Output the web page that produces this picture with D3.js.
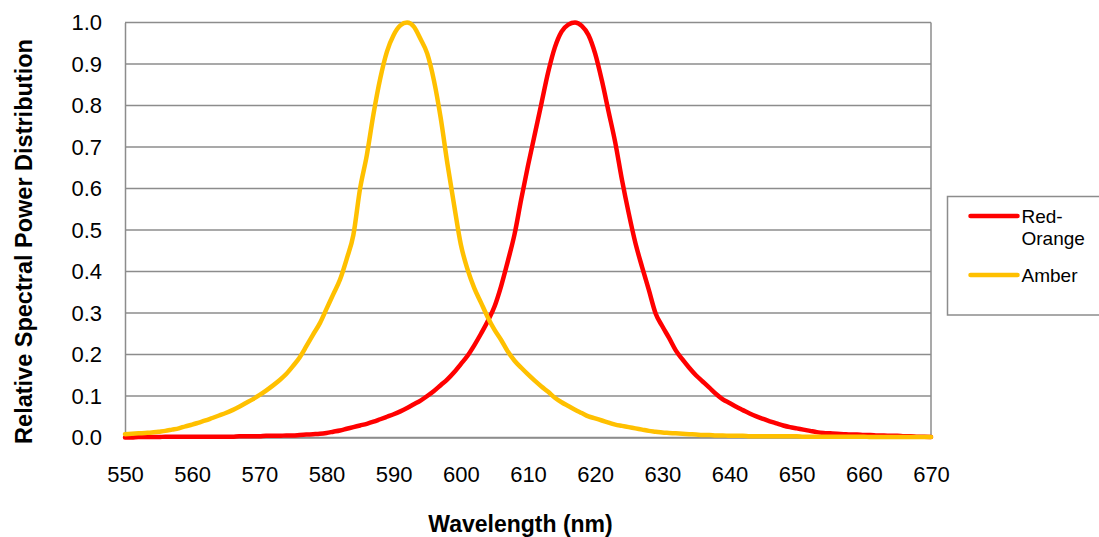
<!DOCTYPE html>
<html>
<head>
<meta charset="utf-8">
<script src="https://cdn.jsdelivr.net/npm/d3@7"></script>
<style>
  body { margin: 0; background: #fff; }
  text { font-family: "Liberation Sans", Arial, sans-serif; }
</style>
</head>
<body>
<svg width="1099" height="537"></svg>
<script>

// DATA ––––––––––––––––––––––––––––––––––––––––––––––––––––––––––––––––

var wavelengths = d3.range(550, 671, 1);

var redOrange = [
  0.000, 0.000, 0.001, 0.001, 0.001, 0.001, 0.002, 0.002, 0.002, 0.002,
  0.002, 0.002, 0.002, 0.002, 0.002, 0.002, 0.002, 0.003, 0.003, 0.003,
  0.003, 0.004, 0.004, 0.004, 0.005, 0.005, 0.006, 0.007, 0.008, 0.009,
  0.011, 0.014, 0.017, 0.021, 0.025, 0.029, 0.033, 0.038, 0.044, 0.050,
  0.056, 0.063, 0.071, 0.080, 0.089, 0.100, 0.112, 0.126, 0.140, 0.157,
  0.177, 0.197, 0.222, 0.250, 0.280, 0.315, 0.365, 0.425, 0.490, 0.575,
  0.655, 0.730, 0.805, 0.880, 0.940, 0.978, 0.995, 1.000, 0.992, 0.970,
  0.925, 0.860, 0.785, 0.710, 0.620, 0.540, 0.468, 0.410, 0.355, 0.299,
  0.268, 0.240, 0.210, 0.188, 0.168, 0.150, 0.135, 0.120, 0.105, 0.092,
  0.083, 0.074, 0.066, 0.058, 0.051, 0.045, 0.039, 0.034, 0.029, 0.025,
  0.022, 0.019, 0.016, 0.013, 0.011, 0.010, 0.009, 0.008, 0.007, 0.007,
  0.006, 0.006, 0.005, 0.005, 0.004, 0.004, 0.003, 0.003, 0.002, 0.002,
  0.001
];

var amber = [
  0.008, 0.009, 0.010, 0.011, 0.012, 0.014, 0.016, 0.019, 0.022, 0.027,
  0.031, 0.036, 0.041, 0.047, 0.053, 0.059, 0.066, 0.074, 0.083, 0.092,
  0.102, 0.113, 0.125, 0.138, 0.153, 0.172, 0.193, 0.220, 0.248, 0.275,
  0.310, 0.345, 0.380, 0.430, 0.488, 0.600, 0.680, 0.780, 0.865, 0.930,
  0.970, 0.993, 1.000, 0.990, 0.960, 0.925, 0.860, 0.770, 0.660, 0.560,
  0.465, 0.405, 0.360, 0.325, 0.290, 0.260, 0.235, 0.207, 0.185, 0.168,
  0.152, 0.137, 0.123, 0.110, 0.096, 0.085, 0.076, 0.067, 0.059, 0.051,
  0.046, 0.041, 0.036, 0.031, 0.028, 0.025, 0.022, 0.019, 0.016, 0.014,
  0.012, 0.011, 0.010, 0.009, 0.008, 0.007, 0.006, 0.006, 0.005, 0.005,
  0.004, 0.004, 0.004, 0.003, 0.003, 0.003, 0.003, 0.003, 0.003, 0.003,
  0.003, 0.002, 0.002, 0.002, 0.002, 0.002, 0.002, 0.002, 0.002, 0.002,
  0.002, 0.001, 0.001, 0.001, 0.001, 0.001, 0.001, 0.001, 0.001, 0.001,
  0.001
];

var seriesNames = ["Red-Orange", "Amber"];
var seriesColors = ["#ff0000", "#ffc000"];
var xTicks = d3.range(550, 671, 10);
var yTicks = d3.range(0, 1.01, 0.1);


// D3 ––––––––––––––––––––––––––––––––––––––––––––––––––––––––––––––––––

var svg = d3.select("svg"),
    margin = {top: 22.5, right: 168, bottom: 99.5, left: 125},
    width = +svg.attr("width") - margin.left - margin.right,
    height = +svg.attr("height") - margin.top - margin.bottom,
    g = svg.append("g").attr("transform", "translate(" + margin.left + "," + margin.top + ")");

var x = d3.scaleLinear().domain([550, 670]).range([0, width]);
var y = d3.scaleLinear().domain([0, 1]).range([height, 0]);

// gridlines
g.append("g")
    .selectAll("line")
    .data(yTicks)
    .enter().append("line")
      .attr("x1", 0)
      .attr("x2", width)
      .attr("y1", function(d) { return y(d); })
      .attr("y2", function(d) { return y(d); })
      .attr("stroke", "#8c8c8c")
      .attr("stroke-width", 1.5);

// right side of the frame
g.append("line").attr("x1", width).attr("x2", width).attr("y1", 0).attr("y2", height)
    .attr("stroke", "#8c8c8c").attr("stroke-width", 1.5);

var yAxis = g.append("g")
    .call(d3.axisLeft(y).tickValues(yTicks).tickFormat(d3.format(".1f")).tickSize(0).tickPadding(23));
yAxis.select(".domain").attr("stroke", "#8c8c8c").attr("stroke-width", 1.5);
yAxis.selectAll("text").attr("font-size", 22).attr("fill", "#000")
    .style("font-family", "'Liberation Sans', Arial, sans-serif");

var xAxis = g.append("g")
    .attr("transform", "translate(0," + height + ")")
    .call(d3.axisBottom(x).tickValues(xTicks).tickFormat(d3.format("d")).tickSize(0).tickPadding(29));
xAxis.select(".domain").attr("stroke", "#8c8c8c").attr("stroke-width", 1.5);
xAxis.selectAll("text").attr("font-size", 22).attr("fill", "#000")
    .style("font-family", "'Liberation Sans', Arial, sans-serif");

// axis titles
svg.append("text")
    .attr("x", 520.5)
    .attr("y", 532)
    .attr("text-anchor", "middle")
    .attr("font-size", 23)
    .attr("font-weight", "bold")
    .text("Wavelength (nm)");

svg.append("text")
    .attr("transform", "translate(31.5,241.5) rotate(-90)")
    .attr("text-anchor", "middle")
    .attr("font-size", 23.5)
    .attr("font-weight", "bold")
    .text("Relative Spectral Power Distribution");

// lines
var line = d3.line()
    .x(function(d, i) { return x(wavelengths[i]); })
    .y(function(d) { return y(d); })
    .curve(d3.curveMonotoneX);

[redOrange, amber].forEach(function(data, i) {
  g.append("path")
    .datum(data)
    .attr("fill", "none")
    .attr("stroke", seriesColors[i])
    .attr("stroke-width", 4.5)
    .attr("stroke-linejoin", "round")
    .attr("stroke-linecap", "round")
    .attr("d", line);
});

// legend
var legend = svg.append("g").attr("transform", "translate(947.5,196.5)");
legend.append("rect")
    .attr("width", 160)
    .attr("height", 118.5)
    .attr("fill", "#fff")
    .attr("stroke", "#8c8c8c")
    .attr("stroke-width", 1.5);

var legendY = [19.5, 78.5];
seriesNames.forEach(function(name, i) {
  legend.append("line")
    .attr("x1", 23).attr("x2", 70)
    .attr("y1", legendY[i]).attr("y2", legendY[i])
    .attr("stroke", seriesColors[i])
    .attr("stroke-width", 4.5)
    .attr("stroke-linecap", "round");
});

legend.append("text").attr("x", 74).attr("y", 26.8).attr("font-size", 19).text("Red-");
legend.append("text").attr("x", 74).attr("y", 48.5).attr("font-size", 19).text("Orange");
legend.append("text").attr("x", 74).attr("y", 85.2).attr("font-size", 19).text(seriesNames[1]);

</script>
</body>
</html>
